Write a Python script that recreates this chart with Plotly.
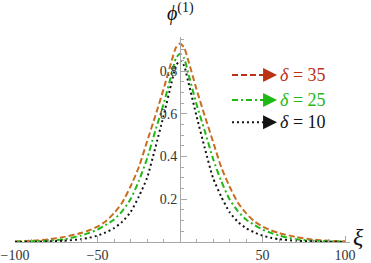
import plotly.graph_objects as go

xi = [-100, -90, -80, -70, -60, -55, -50, -45, -40, -35, -30, -25, -20, -15, -10, -5, -2.5, 0,
      2.5, 5, 10, 15, 20, 25, 30, 35, 40, 45, 50, 55, 60, 70, 80, 90, 100]

phi_d35 = [0.003, 0.006, 0.012, 0.024, 0.042, 0.055, 0.072, 0.097, 0.135, 0.185, 0.26, 0.35, 0.47, 0.59, 0.715, 0.85, 0.91, 0.929,
           0.91, 0.85, 0.715, 0.59, 0.47, 0.35, 0.26, 0.185, 0.135, 0.097, 0.072, 0.055, 0.042, 0.024, 0.012, 0.006, 0.003]
phi_d25 = [0.001, 0.003, 0.006, 0.013, 0.03, 0.043, 0.058, 0.08, 0.105, 0.145, 0.2, 0.285, 0.39, 0.52, 0.645, 0.79, 0.86, 0.882,
           0.86, 0.79, 0.645, 0.52, 0.39, 0.285, 0.2, 0.145, 0.105, 0.08, 0.058, 0.043, 0.03, 0.013, 0.006, 0.003, 0.001]
phi_d10 = [0.0005, 0.001, 0.003, 0.006, 0.013, 0.02, 0.03, 0.045, 0.065, 0.095, 0.14, 0.212, 0.3, 0.44, 0.59, 0.75, 0.825, 0.851,
           0.825, 0.75, 0.59, 0.44, 0.3, 0.212, 0.14, 0.095, 0.065, 0.045, 0.03, 0.02, 0.013, 0.006, 0.003, 0.001, 0.0005]

legend_labels = ["δ = 35", "δ = 25", "δ = 10"]
x_ticks = [-100, -50, 50, 100]
y_ticks = [0.2, 0.4, 0.6, 0.8]

SERIF = "Liberation Serif, Times New Roman, serif"
curve_colors = ["rgb(200,110,35)", "rgb(30,185,20)", "rgb(20,20,20)"]
legend_colors = ["rgb(185,50,20)", "rgb(30,185,20)", "rgb(20,20,20)"]
dashes = ["6px,3px", "6px,3px,2px,3px", "2px,3px"]

fig = go.Figure()
for ys, c, d in zip([phi_d35, phi_d25, phi_d10], curve_colors, dashes):
    fig.add_trace(go.Scatter(x=xi, y=ys, mode="lines",
                             line=dict(color=c, width=2, dash=d, shape="spline", smoothing=0.6),
                             showlegend=False, hoverinfo="skip"))

# legend drawn manually (line + arrow + label)
leg_y = [0.782, 0.665, 0.561]
for lab, c, d, yy in zip(legend_labels, legend_colors, dashes, leg_y):
    fig.add_shape(type="line", xref="x", yref="y", x0=31.5, x1=51.5, y0=yy, y1=yy,
                  line=dict(color=c, width=2, dash=d))
    fig.add_annotation(x=58.8, y=yy, ax=51.0, ay=yy, xref="x", yref="y", axref="x", ayref="y",
                       text="", showarrow=True, arrowhead=2, arrowsize=1.4, arrowwidth=2, arrowcolor=c)
    num = lab.split("=")[1].strip()
    fig.add_annotation(x=59.2, y=yy, xref="x", yref="y", xanchor="left", yanchor="middle",
                       text="<i>δ</i> = " + num, showarrow=False,
                       font=dict(family=SERIF, size=18, color=c))

fig.add_annotation(x=100 / 203, y=1.0, xref="paper", yref="paper", yshift=10, xanchor="center", yanchor="bottom",
                   text="<i>ϕ</i><sup>(1)</sup>", showarrow=False, font=dict(family=SERIF, size=20, color="#111"))
fig.add_annotation(x=1.0, y=0.0, xref="paper", yref="paper", xshift=1, yshift=5, xanchor="left", yanchor="middle",
                   text="<i>ξ</i>", showarrow=False, font=dict(family=SERIF, size=24, color="#111"))

axis_col = "#a8a8a8"
fig.update_layout(
    width=371, height=263,
    margin=dict(l=15, r=21, t=37, b=21, autoexpand=False),
    plot_bgcolor="white", paper_bgcolor="white",
    font=dict(family=SERIF),
    xaxis=dict(range=[-100, 103], showgrid=False, zeroline=False, showline=True, linecolor=axis_col, linewidth=1,
               automargin=False,
               tickvals=x_ticks, ticks="inside", ticklen=6, tickcolor=axis_col, tickwidth=1,
               minor=dict(dtick=10, tick0=0, ticks="inside", ticklen=3, tickcolor=axis_col),
               tickfont=dict(family=SERIF, size=14, color="#333")),
    yaxis=dict(range=[0, 0.96], showgrid=False, zeroline=False, showline=True, linecolor=axis_col, linewidth=1,
               automargin=False, anchor="free", position=100 / 203, side="left",
               tickvals=y_ticks, ticks="inside", ticklen=6, tickcolor=axis_col, tickwidth=1,
               minor=dict(dtick=0.05, tick0=0, ticks="inside", ticklen=3, tickcolor=axis_col),
               tickfont=dict(family=SERIF, size=14, color="#333")),
)

fig.write_html("out.html", config={"displayModeBar": False},
               post_script="document.body.style.margin='0';document.body.style.padding='0';")
